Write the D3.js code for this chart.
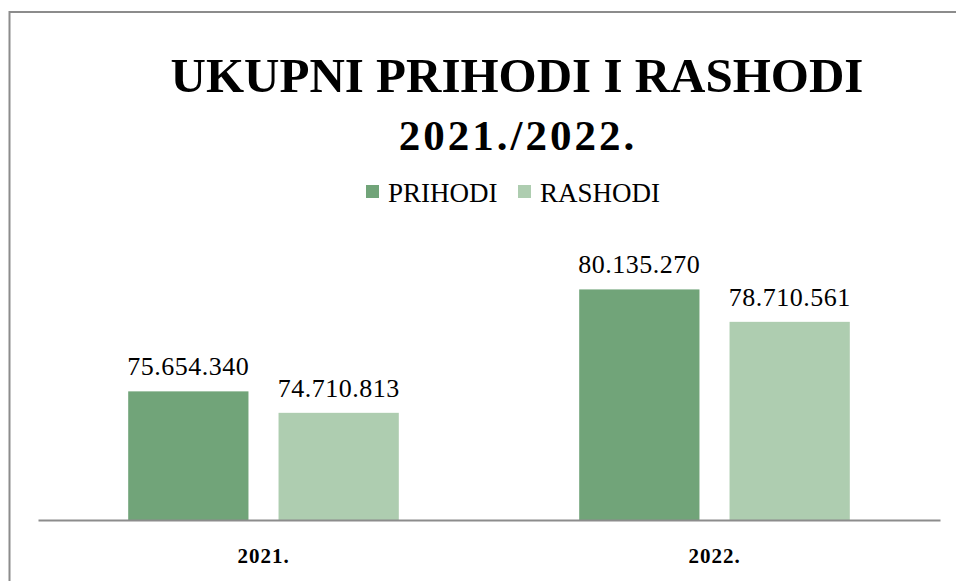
<!DOCTYPE html>
<html>
<head>
<meta charset="utf-8">
<script src="https://cdn.jsdelivr.net/npm/d3@7"></script>
<style>
  body { margin: 0; background: #fff; }
  text { font-family: "Liberation Serif", "DejaVu Serif", serif; }
</style>
</head>
<body>
<div id="chart"></div>
<script>
const years = ["2021.", "2022."];
const seriesNames = ["PRIHODI", "RASHODI"];
const prihodi = [75654340, 80135270];
const rashodi = [74710813, 78710561];
const colors = ["#71a479", "#aecdb0"];

const width = 956, height = 581;
const svg = d3.select("#chart").append("svg")
    .attr("width", width)
    .attr("height", height);

// outer frame (runs off the right and bottom edges)
svg.append("rect")
    .attr("x", 9.5).attr("y", 12)
    .attr("width", 960).attr("height", 600)
    .attr("fill", "none")
    .attr("stroke", "#8c8c8c")
    .attr("stroke-width", 2);

svg.append("text")
    .attr("x", 517).attr("y", 92)
    .attr("text-anchor", "middle")
    .style("font-size", "49px")
    .style("font-weight", "bold")
    .text("UKUPNI PRIHODI I RASHODI");

svg.append("text")
    .attr("x", 518).attr("y", 150)
    .attr("text-anchor", "middle")
    .style("font-size", "43px")
    .style("font-weight", "bold")
    .style("letter-spacing", "3px")
    .text("2021./2022.");

// legend
const legend = svg.append("g");
const legX = [366, 518];
seriesNames.forEach((name, i) => {
    legend.append("rect")
        .attr("x", legX[i]).attr("y", 185)
        .attr("width", 13).attr("height", 13)
        .attr("fill", colors[i]);
    legend.append("text")
        .attr("x", legX[i] + 22).attr("y", 202)
        .style("font-size", "27px")
        .text(name);
});

const x0 = d3.scaleBand().domain(years).range([38, 940]);
const x1 = d3.scaleBand().domain(seriesNames).range([0, x0.bandwidth()])
    .paddingInner(0.2).paddingOuter(0.6);
const y = d3.scaleLinear().domain([70000000, 82000000]).range([520, 247]);

const rows = years.map((yr, i) => ({ year: yr, values: [prihodi[i], rashodi[i]] }));
const fmt = v => d3.format(",")(v).replace(/,/g, ".");

const groups = svg.selectAll("g.year")
    .data(rows)
    .enter().append("g")
    .attr("class", "year")
    .attr("transform", d => `translate(${x0(d.year)},0)`);

groups.selectAll("rect")
    .data(d => d.values.map((v, i) => ({ key: seriesNames[i], value: v, idx: i })))
    .enter().append("rect")
    .attr("x", d => x1(d.key))
    .attr("y", d => y(d.value))
    .attr("width", x1.bandwidth())
    .attr("height", d => 520 - y(d.value))
    .attr("fill", d => colors[d.idx]);

groups.selectAll("text.lbl")
    .data(d => d.values.map((v, i) => ({ key: seriesNames[i], value: v })))
    .enter().append("text")
    .attr("class", "lbl")
    .attr("x", d => x1(d.key) + x1.bandwidth() / 2)
    .attr("y", d => y(d.value) - 16)
    .attr("text-anchor", "middle")
    .style("font-size", "26px")
    .style("letter-spacing", "0.5px")
    .text(d => fmt(d.value));

const xAxis = svg.append("g")
    .attr("transform", "translate(0,520)")
    .call(d3.axisBottom(x0).tickSize(0).tickPadding(28));
xAxis.select(".domain").attr("stroke", "#8c8c8c").attr("stroke-width", 2);
xAxis.selectAll(".tick text")
    .style("font-family", "'Liberation Serif', serif")
    .style("font-size", "21px")
    .style("font-weight", "bold")
    .style("letter-spacing", "1px")
    .attr("fill", "#000");
</script>
</body>
</html>
